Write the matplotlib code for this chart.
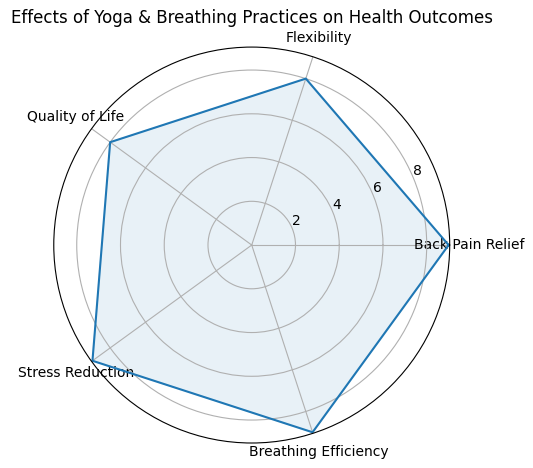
import numpy as np
import matplotlib
matplotlib.use("Agg")
import matplotlib.pyplot as plt

categories = ["Back Pain Relief", "Flexibility", "Quality of Life",
              "Stress Reduction", "Breathing Efficiency"]
values = [9, 8, 8, 9, 9]

angles = np.linspace(0, 2 * np.pi, len(categories), endpoint=False).tolist()
closed_vals = values + values[:1]
closed_angles = angles + angles[:1]

fig = plt.figure(figsize=(5.33, 4.68), dpi=100)
ax = fig.add_axes([0.1008, 0.0534, 0.743, 0.846], polar=True)

ax.fill(closed_angles, closed_vals, color="C0", alpha=0.1)
ax.plot(closed_angles, closed_vals, color="C0")

ax.set_xticks(angles)
ax.set_xticklabels(categories)
ax.set_title("Effects of Yoga & Breathing Practices on Health Outcomes")

fig.savefig("out.png", dpi=100)
